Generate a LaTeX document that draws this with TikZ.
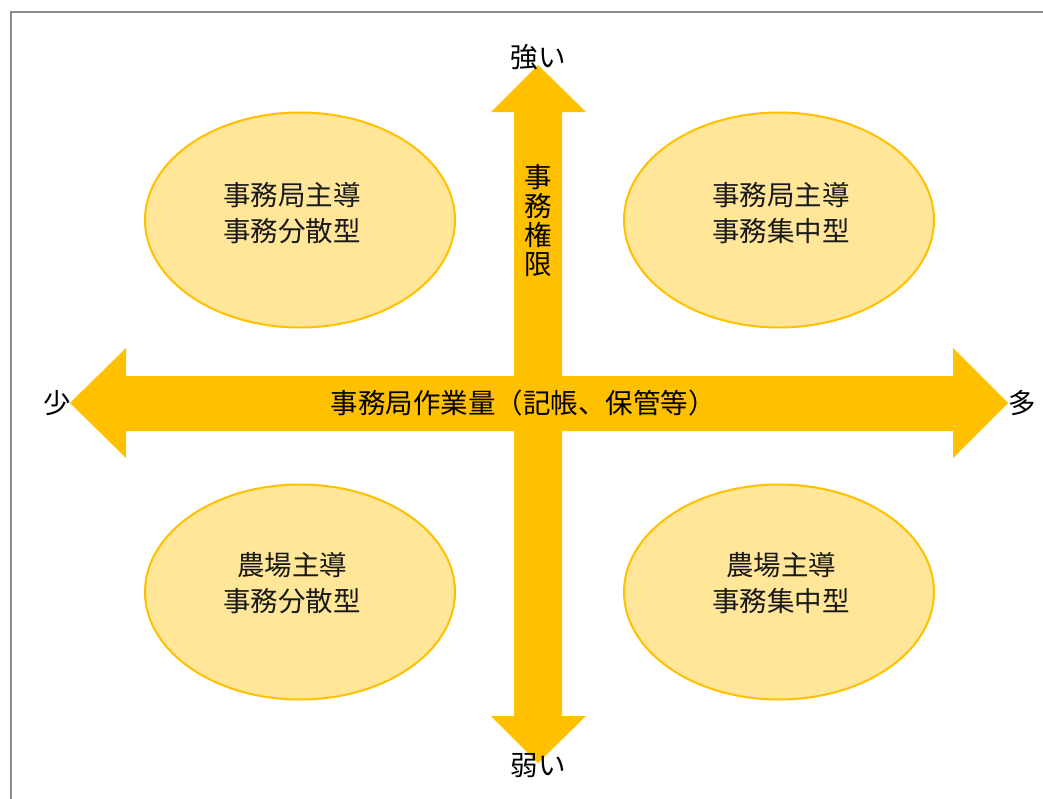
\documentclass[tikz,border=0pt]{standalone}
\usepackage{fontspec}
\setmainfont{Noto Sans CJK JP}
\usetikzlibrary{shapes.geometric}
\begin{document}
\begin{tikzpicture}[x=1pt,y=-1pt,
  quad/.style={ellipse,draw=gold,line width=2pt,fill=lightgold,minimum width=310pt,minimum height=215pt,inner sep=0pt},
  qtext/.style={inner sep=0pt,align=center,font=\fontsize{27.5}{36}\selectfont,text=black!90},
  lbl/.style={inner sep=0pt,font=\fontsize{27.5}{30}\selectfont,text=black},
  arrowfill/.style={fill=gold,draw=none}]
\definecolor{gold}{HTML}{FFC000}
\definecolor{lightgold}{HTML}{FFE699}
\useasboundingbox (0,0) rectangle (1043,798);
\clip (0,0) rectangle (1043,798);
\fill[white] (0,0) rectangle (1043,798);
\draw[draw=black!45,line width=2.5pt] (11,12) rectangle (1070,830);
% arrows
\fill[arrowfill] (538,65) -- (586,112) -- (562,112) -- (562,716) -- (586,716) -- (538,763) -- (491,716) -- (514,716) -- (514,112) -- (491,112) -- cycle;
\fill[arrowfill] (70,403) -- (126,348) -- (126,376) -- (953,376) -- (953,348) -- (1008,403) -- (953,458) -- (953,431) -- (126,431) -- (126,458) -- cycle;
% ellipses
\node[quad] (ul) at (300,220) {};
\node[quad] (ur) at (779,220) {};
\node[quad] (ll) at (300,592) {};
\node[quad] (lr) at (779,592) {};
\node[qtext] (ult) at (292,213) {事務局主導\\事務分散型};
\node[qtext] (urt) at (781,213) {事務局主導\\事務集中型};
\node[qtext] (llt) at (292,583) {農場主導\\事務分散型};
\node[qtext] (lrt) at (781,583) {農場主導\\事務集中型};
% labels
\node[lbl] (strong) at (538,57) {強い};
\node[lbl] (weak) at (538,766) {弱い};
\node[lbl] (few) at (57,403) {少};
\node[lbl] (many) at (1022,403) {多};
\node[lbl] (work) at (523,403) {事務局作業量（記帳、保管等）};
\node[lbl,align=center,font=\fontsize{27.5}{29}\selectfont] (auth) at (538,221) {事\\務\\権\\限};
\end{tikzpicture}
\end{document}
